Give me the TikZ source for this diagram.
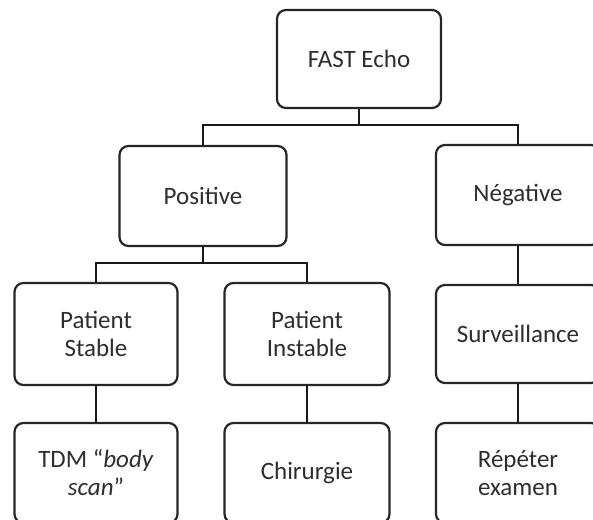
\documentclass[tikz,border=0pt]{standalone}
\usepackage{fontspec}
\setmainfont{Carlito}
\definecolor{boxline}{HTML}{262626}
\definecolor{boxtext}{HTML}{2E2E2E}
\tikzset{
  box/.style={draw=boxline, line width=2.2pt, rounded corners=9pt, fill=white,
    minimum width=164pt, minimum height=100pt, align=center, text=boxtext,
    font=\fontsize{25}{28}\selectfont},
  link/.style={draw=black!90, line width=2.2pt}
}

\begin{document}
\begin{tikzpicture}[x=1pt,y=-1pt]
            \useasboundingbox (0,0) rectangle (593,519);

            % Root node
            \node[box, minimum height=98pt] (root) at (359,59) {FAST Echo};

            % Second stage nodes
            \node[box, minimum width=167pt] (pos) at (203,196) {Positive};
            \node[box] (neg) at (518,195) {Négative};
            \coordinate (j1) at (359,125);
            \draw[link] (root) -- (j1);
            \draw[link] (j1) -| (pos);
            \draw[link] (j1) -| (neg);

            % Third stage nodes
            \node[box, minimum width=163pt, minimum height=102pt] (stab) at (96,334) {Patient\\Stable};
            \node[box, minimum width=165pt, minimum height=102pt] (inst) at (307,334) {Patient\\Instable};
            \node[box, minimum height=98pt] (surv) at (518,334) {Surveillance};
            \coordinate (j2) at (203,263);
            \draw[link] (pos) -- (j2);
            \draw[link] (j2) -| (stab);
            \draw[link] (j2) -| (inst);
            \draw[link] (neg) -- (surv);

            % Fourth stage nodes
            \node[box, minimum width=163pt] (tdm) at (96,473) {TDM “\textit{body}\\\textit{scan}”};
            \node[box, minimum width=165pt] (chir) at (307,473) {Chirurgie};
            \node[box] (rep) at (518,473) {Répéter\\examen};
            \draw[link] (stab) -- (tdm);
            \draw[link] (inst) -- (chir);
            \draw[link] (surv) -- (rep);
        \end{tikzpicture}
\end{document}
